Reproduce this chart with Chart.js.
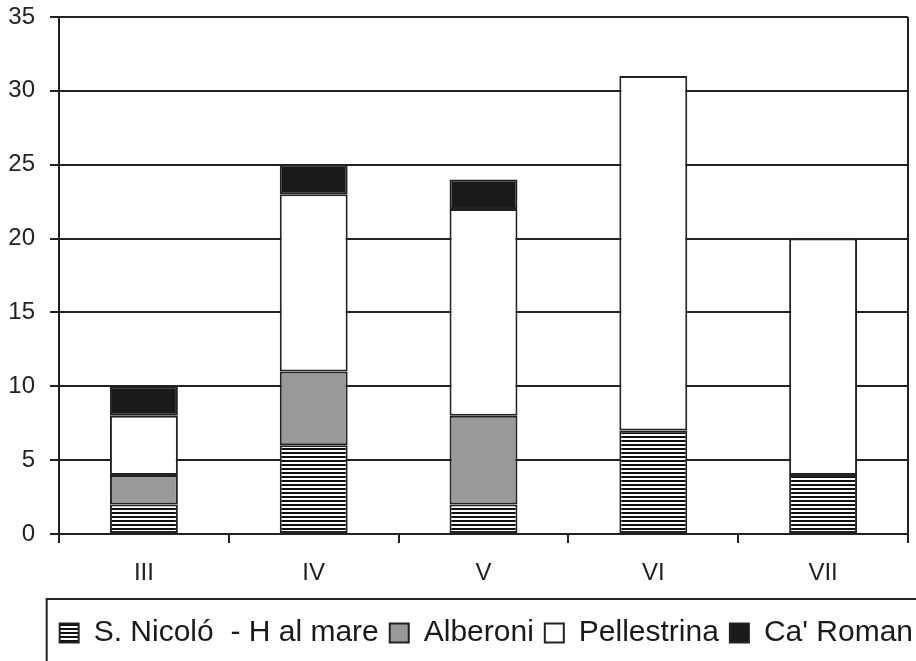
<!DOCTYPE html>
<html>
<head>
<meta charset="utf-8">
<script src="https://cdn.jsdelivr.net/npm/chart.js@4.4.1/dist/chart.umd.min.js"></script>
<style>
  html, body { margin: 0; padding: 0; background: #fff; overflow: hidden; }
  #wrap { width: 916px; height: 661px; }
</style>
</head>
<body>
<div id="wrap"><canvas id="myChart"></canvas></div>
<script>
const categories = ['III', 'IV', 'V', 'VI', 'VII'];
const sanNicolo = [2, 6, 2, 7, 4];
const alberoni = [2, 5, 6, 0, 0];
const pellestrina = [4, 12, 14, 24, 16];
const caRoman = [2, 2, 2, 0, 0];
const yTicks = [0, 5, 10, 15, 20, 25, 30, 35];

const ink = '#222';

// horizontal black/white stripes for S. Nicolo
function stripes() {
    const c = document.createElement('canvas');
    c.width = 4;
    c.height = 4;
    const g = c.getContext('2d');
    g.fillStyle = '#fff';
    g.fillRect(0, 0, 4, 4);
    g.fillStyle = '#111';
    g.fillRect(0, 0, 4, 2);
    return g.createPattern(c, 'repeat');
}

// box round the legend + right edge of the plot with its tick
const extras = {
    id: 'extras',
    afterDraw(chart) {
        const c = chart.ctx;
        const a = chart.chartArea;
        c.save();
        c.strokeStyle = ink;
        c.lineWidth = 2;
        c.beginPath();
        c.moveTo(a.right, a.top);
        c.lineTo(a.right, a.bottom + 9);
        c.stroke();
        const l = chart.legend;
        if (l && l.legendHitBoxes.length) {
            const hb = l.legendHitBoxes[0];
            c.strokeRect(hb.left - 13, hb.top - 19, 1000, 200);
        }
        c.restore();
    }
};

const ctx = document.getElementById('myChart');
const common = {
    borderColor: ink,
    borderWidth: (c) => c.raw === 0 ? 0 : 2,
    borderSkipped: false,
    barPercentage: 0.8,
    categoryPercentage: 0.5
};
const font24 = { family: 'Liberation Sans', size: 24 };

new Chart(ctx, {
    type: 'bar',
    data: {
        labels: categories,
        datasets: [
            { label: 'S. Nicoló  - H al mare', data: sanNicolo, backgroundColor: stripes(), ...common },
            { label: 'Alberoni', data: alberoni, backgroundColor: '#999999', ...common },
            { label: 'Pellestrina', data: pellestrina, backgroundColor: '#ffffff', ...common },
            { label: "Ca' Roman", data: caRoman, backgroundColor: '#1a1a1a', ...common }
        ]
    },
    options: {
        responsive: true,
        maintainAspectRatio: false,
        animation: false,
        layout: { padding: { left: 0, right: -8, top: 0, bottom: 3 } },
        plugins: {
            legend: {
                position: 'bottom',
                align: 'end',
                labels: {
                    boxWidth: 19,
                    boxHeight: 19,
                    padding: 11,
                    color: '#1a1a1a',
                    font: { family: 'Liberation Sans', size: 30 },
                    generateLabels: (chart) => Chart.defaults.plugins.legend.labels.generateLabels(chart)
                        .map(item => ({ ...item, lineWidth: 2 }))
                }
            },
            tooltip: { enabled: false }
        },
        scales: {
            x: {
                stacked: true,
                afterFit: (axis) => { axis.height = 73; axis.paddingLeft = 0; axis.paddingRight = 0; },
                grid: { offset: true, drawOnChartArea: false, tickColor: ink, tickLength: 9, lineWidth: 2 },
                border: { display: true, color: ink, width: 2 },
                ticks: { color: ink, padding: 16, font: font24 }
            },
            y: {
                stacked: true,
                min: 0,
                max: 35,
                afterBuildTicks: (axis) => { axis.ticks = yTicks.map(v => ({ value: v })); },
                afterFit: (axis) => { axis.width = 59; axis.paddingTop = 17; axis.paddingBottom = 0; },
                grid: { color: ink, tickColor: ink, tickLength: 9, lineWidth: 2 },
                border: { display: true, color: ink, width: 2 },
                ticks: { color: ink, padding: 15, font: font24 }
            },
            // spacer on the right so the plot stops short of the edge
            y2: {
                position: 'right',
                display: true,
                afterFit: (axis) => { axis.width = 16; axis.paddingTop = 17; axis.paddingBottom = 0; },
                grid: { display: false },
                border: { display: false },
                ticks: { display: false }
            }
        }
    },
    plugins: [extras]
});
</script>
</body>
</html>
